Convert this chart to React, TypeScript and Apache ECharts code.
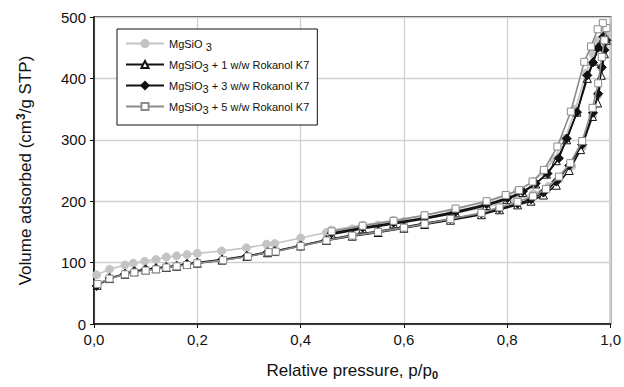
import React, { useEffect, useRef } from "react";
import * as echarts from "echarts";

// Relative pressure / volume adsorbed (adsorption branch then desorption branch)
const mgsio3: [number, number][] = [
  [0.005, 80], [0.03, 89], [0.06, 96], [0.076, 99], [0.098, 102], [0.12, 105], [0.14, 109],
  [0.16, 111], [0.18, 113], [0.2, 115], [0.247, 119], [0.295, 124], [0.334, 130], [0.35, 131],
  [0.4, 140], [0.45, 149], [0.5, 155], [0.55, 161], [0.6, 167], [0.64, 172], [0.69, 179],
  [0.75, 189], [0.785, 196], [0.82, 204], [0.85, 212], [0.88, 224], [0.9, 236], [0.925, 257],
  [0.945, 288], [0.965, 338], [0.975, 372], [0.982, 418], [0.988, 450], [0.992, 470],
  [0.986, 478], [0.976, 462], [0.966, 440], [0.952, 408], [0.932, 350], [0.912, 302],
  [0.89, 268], [0.87, 248], [0.85, 232], [0.82, 217], [0.8, 209], [0.76, 199], [0.7, 187],
  [0.64, 177], [0.58, 169], [0.52, 161], [0.46, 153],
];
const rk1: [number, number][] = [
  [0.006, 63], [0.03, 74], [0.06, 81], [0.078, 85], [0.1, 88], [0.12, 90], [0.14, 92],
  [0.16, 94], [0.18, 97], [0.2, 99], [0.248, 104], [0.296, 110], [0.336, 116], [0.35, 118],
  [0.4, 127], [0.45, 136], [0.5, 143], [0.55, 149], [0.6, 156], [0.64, 162], [0.69, 169],
  [0.75, 178], [0.785, 186], [0.82, 194], [0.846, 200], [0.87, 210], [0.895, 226], [0.92, 250],
  [0.942, 284], [0.965, 338], [0.975, 360], [0.982, 405], [0.988, 440], [0.992, 462],
  [0.986, 466], [0.977, 452], [0.967, 428], [0.955, 400], [0.935, 345], [0.915, 300],
  [0.895, 266], [0.876, 244], [0.855, 228], [0.83, 214], [0.8, 203], [0.76, 193], [0.7, 181],
  [0.64, 171], [0.58, 163], [0.52, 155], [0.46, 146],
];
const rk3: [number, number][] = [
  [0.005, 62], [0.03, 75], [0.06, 82], [0.078, 86], [0.1, 89], [0.12, 91], [0.14, 93],
  [0.16, 95], [0.18, 98], [0.2, 100], [0.248, 105], [0.296, 111], [0.336, 117], [0.35, 119],
  [0.4, 128], [0.45, 137], [0.5, 145], [0.55, 151], [0.6, 158], [0.64, 164], [0.69, 171],
  [0.75, 180], [0.785, 188], [0.82, 196], [0.846, 203], [0.87, 214], [0.895, 232], [0.92, 258],
  [0.945, 292], [0.966, 344], [0.976, 375], [0.983, 418], [0.988, 446], [0.992, 462],
  [0.986, 468], [0.976, 450], [0.966, 426], [0.955, 405], [0.935, 345], [0.915, 302],
  [0.9, 270], [0.878, 245], [0.855, 229], [0.83, 216], [0.8, 205], [0.76, 195], [0.7, 183],
  [0.64, 173], [0.58, 165], [0.52, 157], [0.46, 148],
];
const rk5: [number, number][] = [
  [0.007, 65], [0.03, 74], [0.06, 81], [0.078, 84], [0.1, 87], [0.12, 89], [0.14, 92],
  [0.16, 94], [0.18, 96], [0.2, 99], [0.25, 104], [0.298, 110], [0.338, 117], [0.352, 118],
  [0.4, 127], [0.45, 136], [0.5, 144], [0.55, 150], [0.6, 157], [0.64, 163], [0.69, 171],
  [0.75, 181], [0.785, 190], [0.82, 199], [0.85, 208], [0.875, 220], [0.9, 240], [0.922, 262],
  [0.945, 298], [0.965, 352], [0.976, 392], [0.983, 435], [0.988, 462], [0.992, 482],
  [0.985, 490], [0.975, 480], [0.962, 452], [0.949, 427], [0.923, 346], [0.897, 289],
  [0.871, 251], [0.849, 232], [0.823, 218], [0.797, 210], [0.76, 200], [0.7, 188],
  [0.64, 177], [0.58, 168], [0.52, 160], [0.46, 151],
];

const seriesNames = [
  "MgSiO3",
  "MgSiO3 + 1 w/w Rokanol K7",
  "MgSiO3 + 3 w/w Rokanol K7",
  "MgSiO3 + 5 w/w Rokanol K7",
];
const legendRich = [
  "MgSiO {sub|3}",
  "MgSiO{sub|3} + 1 w/w Rokanol K7",
  "MgSiO{sub|3} + 3 w/w Rokanol K7",
  "MgSiO{sub|3} + 5 w/w Rokanol K7",
];
const xTicks = [0, 0.2, 0.4, 0.6, 0.8, 1.0];

const FONT = "'Liberation Sans', Arial, sans-serif";

export default function App() {
  const ref = useRef<HTMLDivElement>(null);
  useEffect(() => {
    if (!ref.current) return;
    const chart = echarts.init(ref.current, null, { renderer: "svg" });
    const mk = (
      name: string,
      data: [number, number][],
      lineColor: string,
      symbol: string,
      size: number,
      fill: string,
      border: string,
      z: number
    ) => ({
      name,
      type: "line",
      data,
      z,
      symbol,
      symbolSize: size,
      showAllSymbol: true,
      lineStyle: { color: lineColor, width: 1.6 },
      itemStyle: { color: fill, borderColor: border, borderWidth: 1 },
      emphasis: { disabled: true },
    });
    chart.setOption({
      animation: false,
      textStyle: { fontFamily: FONT },
      grid: {
        left: 94,
        right: 13,
        top: 17,
        bottom: 63,
        show: true,
        borderColor: "#111",
        borderWidth: 1.5,
        backgroundColor: "transparent",
      },
      legend: {
        orient: "vertical",
        left: 117,
        top: 29,
        backgroundColor: "#fff",
        borderColor: "#111",
        borderWidth: 1,
        borderRadius: 0,
        padding: [9, 8, 10, 8],
        itemGap: 7,
        itemWidth: 38,
        itemHeight: 9,
        data: seriesNames,
        formatter: (n: string) => legendRich[seriesNames.indexOf(n)],
        textStyle: {
          fontFamily: FONT,
          fontSize: 11,
          color: "#111",
          rich: {
            sub: { fontSize: 11, verticalAlign: "bottom", padding: [6, 0, 0, 0], color: "#111", fontFamily: FONT },
          },
        },
      },
      xAxis: {
        type: "value",
        min: 0,
        max: 1,
        interval: 0.2,
        name: "Relative pressure, p/p{sub|0}",
        nameLocation: "middle",
        nameGap: 36,
        nameTextStyle: {
          fontSize: 17,
          color: "#111",
          fontFamily: FONT,
          rich: {
            sub: { fontSize: 11, fontWeight: "bold", verticalAlign: "bottom", padding: [9, 0, 0, 0], color: "#111" },
          },
        },
        axisLine: { show: true, lineStyle: { color: "#111", width: 1.5 } },
        axisTick: { show: true, inside: false, length: 4, lineStyle: { color: "#111" } },
        splitLine: { show: true, lineStyle: { color: "#d0d0d0", width: 1.3 } },
        axisLabel: {
          fontSize: 15,
          color: "#111",
          margin: 8,
          formatter: (v: number) =>
            xTicks.some((t) => Math.abs(t - v) < 1e-6) ? v.toFixed(1).replace(".", ",") : "",
        },
      },
      yAxis: {
        type: "value",
        min: 0,
        max: 500,
        interval: 100,
        name: "Volume adsorbed (cm{sup|3}/g STP)",
        nameLocation: "middle",
        nameGap: 58,
        nameTextStyle: {
          fontSize: 17,
          color: "#111",
          fontFamily: FONT,
          rich: {
            sup: { fontSize: 12, fontWeight: "bold", verticalAlign: "top", padding: [0, 0, 9, 0], color: "#111" },
          },
        },
        axisLine: { show: true, lineStyle: { color: "#111", width: 1.5 } },
        axisTick: { show: true, inside: false, length: 4, lineStyle: { color: "#111" } },
        splitLine: { show: true, lineStyle: { color: "#d0d0d0", width: 1.3 } },
        axisLabel: { fontSize: 15, color: "#111", margin: 8 },
      },
      series: [
        mk(seriesNames[0], mgsio3, "#c4c4c4", "circle", 8, "#c4c4c4", "#c4c4c4", 2),
        mk(seriesNames[1], rk1, "#111", "triangle", 8, "#fff", "#111", 3),
        mk(seriesNames[2], rk3, "#111", "diamond", 9, "#111", "#111", 4),
        mk(seriesNames[3], rk5, "#8c8c8c", "rect", 7, "#fff", "#8c8c8c", 5),
      ],
    });
    return () => chart.dispose();
  }, []);
  return (
    <div
      ref={ref}
      style={{ position: "fixed", left: 0, top: 0, width: 624, height: 387, background: "#fff" }}
    />
  );
}
